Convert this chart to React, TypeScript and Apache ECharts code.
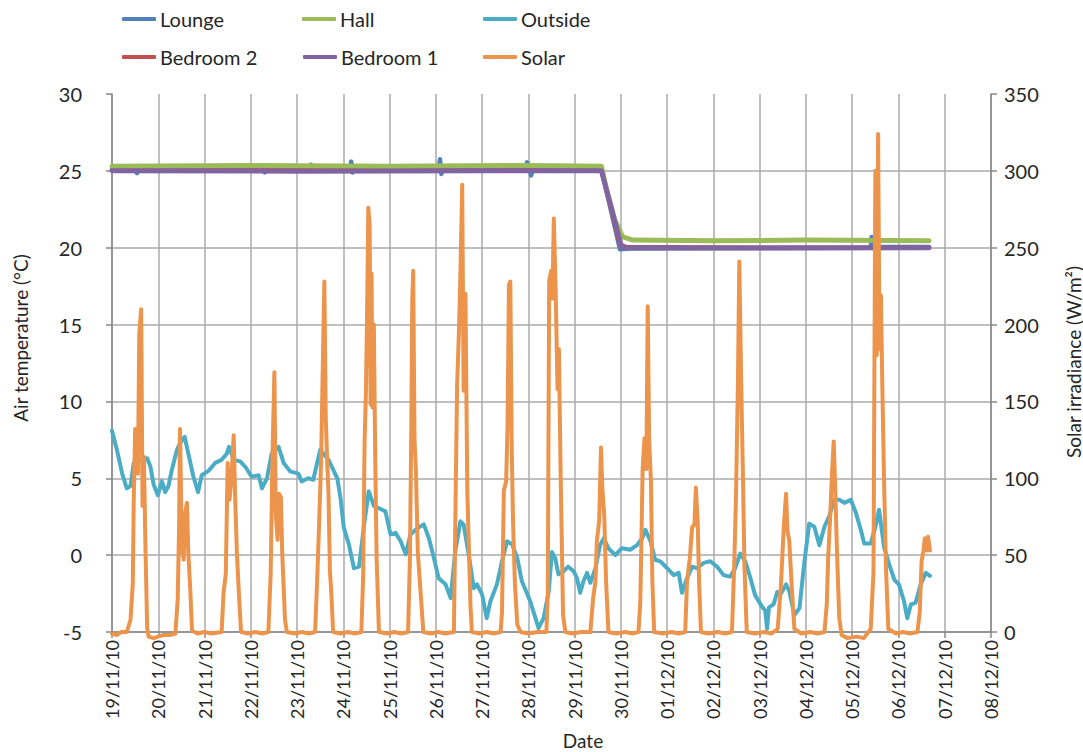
import React, { useEffect, useRef } from "react";
import * as echarts from "echarts";

// Time is given in days after 19/11/2010 00:00.
const START_UTC = Date.UTC(2010, 10, 19);
const DAY_MS = 86400000;

// Indoor air temperatures (°C)
const lounge: [number, number][] = [
  [0, 25.1], [0.5, 25.05], [0.54, 24.85], [0.58, 25.1], [3.28, 25.1], [3.3, 24.9], [3.33, 25.1],
  [4.28, 25.1], [4.3, 25.4], [4.33, 25.1], [5.15, 25.1], [5.17, 25.6], [5.2, 24.9], [5.23, 25.1],
  [7.06, 25.1], [7.09, 25.75], [7.12, 24.8], [7.15, 25.1], [8.94, 25.1], [8.97, 25.55],
  [9.03, 25.2], [9.06, 24.7], [9.1, 25.1], [10.58, 25.1], [10.98, 19.9], [11.2, 19.95],
  [16.4, 20.0], [16.42, 20.7], [16.45, 20.05], [17.66, 20.05],
];
const bedroom2: [number, number][] = [
  [0, 25.05], [5, 25.05], [10.58, 25.05], [10.98, 20.2], [11.1, 20.05], [14, 20.0], [17.66, 20.0],
];
const hall: [number, number][] = [
  [0, 25.3], [3, 25.35], [6, 25.3], [9, 25.35], [10.58, 25.3], [10.69, 23.8], [10.87, 21.8],
  [11.04, 20.7], [11.26, 20.5], [13, 20.45], [15, 20.5], [17.66, 20.45],
];
const bedroom1: [number, number][] = [
  [0, 25.0], [4, 24.98], [8, 25.0], [10.58, 25.0], [11.02, 20.0], [14, 19.98], [17.66, 20.0],
];

// Outside air temperature (°C)
const outside: [number, number][] = [
  [0, 8.1], [0.11, 6.8], [0.22, 5.3], [0.32, 4.35], [0.4, 4.5], [0.47, 6.0], [0.58, 6.2], [0.76, 6.3],
  [0.83, 5.76], [0.9, 4.6], [0.99, 3.9], [1.08, 4.8], [1.15, 4.1], [1.22, 4.5], [1.29, 5.5], [1.4, 6.8],
  [1.47, 7.3], [1.57, 7.7], [1.65, 6.6], [1.76, 5.1], [1.86, 4.1], [1.94, 5.2], [2.09, 5.5], [2.23, 6.0],
  [2.37, 6.2], [2.48, 6.6], [2.53, 7.05], [2.63, 6.2], [2.77, 6.1], [2.88, 5.75], [3.02, 5.1],
  [3.17, 5.2], [3.24, 4.35], [3.35, 5.0], [3.45, 6.6], [3.6, 7.05], [3.71, 6.0], [3.85, 5.45],
  [4.03, 5.3], [4.1, 4.8], [4.24, 5.0], [4.35, 4.9], [4.5, 6.85], [4.68, 6.2], [4.76, 5.7], [4.87, 5.0],
  [4.94, 3.7], [5.01, 1.8], [5.12, 0.7], [5.23, -0.85], [5.34, -0.75], [5.45, 2.0], [5.55, 4.15],
  [5.66, 3.2], [5.77, 3.05], [5.91, 2.85], [6.02, 1.35], [6.13, 1.45], [6.24, 0.9], [6.35, 0.05],
  [6.45, 1.35], [6.6, 1.75], [6.74, 2.0], [6.85, 1.1], [6.96, -0.2], [7.06, -1.5], [7.21, -1.9],
  [7.32, -2.8], [7.42, 0.25], [7.53, 2.2], [7.6, 2.0], [7.71, 0.05], [7.82, -2.15], [7.89, -1.9],
  [8.0, -2.55], [8.1, -4.1], [8.18, -3.0], [8.32, -1.9], [8.43, -0.4], [8.54, 0.9], [8.65, 0.7],
  [8.76, -0.2], [8.86, -1.7], [9.04, -3.0], [9.22, -4.75], [9.33, -4.1], [9.44, -2.35], [9.51, 0.2],
  [9.58, -0.2], [9.65, -1.25], [9.76, -1.05], [9.86, -0.75], [9.98, -1.05], [10.05, -1.5],
  [10.12, -2.45], [10.19, -1.7], [10.27, -1.15], [10.34, -1.8], [10.45, -0.85], [10.55, 0.65],
  [10.63, 1.1], [10.73, 0.45], [10.88, 0.0], [11.02, 0.45], [11.2, 0.35], [11.35, 0.65], [11.46, 1.1],
  [11.53, 1.65], [11.64, 0.9], [11.74, -0.3], [11.85, -0.4], [12.0, -0.85], [12.14, -1.3],
  [12.25, -1.15], [12.32, -2.45], [12.43, -1.5], [12.54, -0.75], [12.64, -0.85], [12.79, -0.5],
  [12.93, -0.4], [13.08, -0.75], [13.22, -1.3], [13.36, -1.4], [13.47, -0.85], [13.58, 0.1],
  [13.69, -0.4], [13.8, -1.5], [13.9, -2.6], [14.05, -3.35], [14.12, -3.6], [14.16, -4.8],
  [14.2, -3.4], [14.3, -3.2], [14.38, -2.4], [14.46, -2.5], [14.57, -1.9], [14.64, -2.35],
  [14.75, -3.9], [14.86, -3.45], [14.96, -0.6], [15.07, 2.05], [15.18, 1.85], [15.29, 0.65],
  [15.4, 1.85], [15.5, 2.5], [15.61, 3.6], [15.72, 3.6], [15.83, 3.4], [15.97, 3.6], [16.08, 2.75],
  [16.19, 1.6], [16.26, 0.75], [16.4, 0.75], [16.51, 1.95], [16.58, 2.95], [16.69, 0.5], [16.8, -0.6],
  [16.91, -1.6], [17.01, -1.9], [17.12, -3.0], [17.19, -4.1], [17.27, -3.2], [17.37, -3.1],
  [17.48, -1.9], [17.59, -1.15], [17.68, -1.35],
];

// Solar irradiance (W/m²)
const solar: [number, number][] = [
  [0, -1], [0.1, -2], [0.2, 0], [0.32, 0], [0.4, 8], [0.45, 32], [0.47, 86], [0.5, 132], [0.54, 129],
  [0.56, 103], [0.59, 194], [0.63, 210], [0.66, 82], [0.69, 114], [0.72, 60], [0.76, 3], [0.79, -3],
  [0.9, -4], [1.0, -3], [1.1, -2], [1.25, -2], [1.37, -1], [1.42, 21], [1.45, 68], [1.47, 132],
  [1.51, 55], [1.55, 47], [1.58, 77], [1.62, 84], [1.65, 51], [1.69, 29], [1.73, 1], [1.85, -1],
  [2.0, 0], [2.15, -1], [2.37, 0], [2.41, 25], [2.46, 38], [2.5, 110], [2.54, 86], [2.58, 99],
  [2.63, 128], [2.66, 90], [2.7, 51], [2.75, 21], [2.79, 0], [2.95, -1], [3.1, 0], [3.25, -1],
  [3.38, 0], [3.43, 38], [3.47, 116], [3.51, 169], [3.54, 77], [3.58, 60], [3.61, 90], [3.65, 88],
  [3.68, 51], [3.74, 8], [3.78, 0], [3.95, -1], [4.1, 0], [4.25, -1], [4.39, 0], [4.44, 38],
  [4.48, 73], [4.52, 112], [4.55, 162], [4.59, 228], [4.62, 140], [4.65, 112], [4.68, 90], [4.71, 40],
  [4.74, 26], [4.78, 0], [4.95, -1], [5.1, 0], [5.25, -1], [5.39, 0], [5.43, 37], [5.46, 124],
  [5.49, 157], [5.52, 222], [5.54, 276], [5.57, 265], [5.59, 148], [5.61, 233], [5.63, 146],
  [5.66, 200], [5.69, 113], [5.72, 48], [5.77, 0], [5.95, -1], [6.1, 0], [6.25, -1], [6.4, 0],
  [6.44, 48], [6.47, 135], [6.49, 215], [6.51, 235], [6.54, 124], [6.57, 105], [6.61, 52],
  [6.67, 26], [6.73, 0], [6.9, -1], [7.05, 0], [7.2, -1], [7.39, 0], [7.42, 70], [7.46, 161],
  [7.5, 196], [7.53, 232], [7.57, 291], [7.6, 157], [7.64, 220], [7.68, 92], [7.71, 59], [7.75, 16],
  [7.78, 0], [7.95, -1], [8.1, 0], [8.25, -1], [8.4, 0], [8.43, 13], [8.47, 92], [8.52, 98],
  [8.55, 135], [8.58, 226], [8.61, 228], [8.64, 120], [8.67, 70], [8.71, 31], [8.76, 5], [8.83, 0],
  [9.0, -1], [9.2, 0], [9.39, 0], [9.42, 26], [9.45, 228], [9.49, 235], [9.52, 217], [9.55, 269],
  [9.59, 222], [9.63, 158], [9.66, 184], [9.7, 98], [9.75, 11], [9.8, 0], [9.95, -1], [10.15, 0],
  [10.34, 0], [10.4, 22], [10.45, 33], [10.48, 59], [10.53, 72], [10.57, 120], [10.6, 93],
  [10.64, 76], [10.68, 33], [10.73, 0], [10.9, -1], [11.1, 0], [11.25, -1], [11.38, 0], [11.42, 20],
  [11.47, 106], [11.51, 126], [11.55, 106], [11.58, 212], [11.61, 126], [11.65, 98], [11.68, 33],
  [11.72, 0], [11.9, -1], [12.1, 0], [12.25, -1], [12.39, 0], [12.43, 33], [12.49, 48], [12.54, 68],
  [12.59, 70], [12.62, 94], [12.66, 72], [12.69, 33], [12.73, 0], [12.9, -1], [13.1, 0], [13.25, -1],
  [13.4, 0], [13.45, 44], [13.49, 91], [13.53, 163], [13.56, 241], [13.6, 163], [13.64, 98],
  [13.67, 44], [13.72, 0], [13.9, -1], [14.1, 0], [14.25, -1], [14.39, 2], [14.46, 31], [14.52, 68],
  [14.57, 90], [14.6, 66], [14.64, 59], [14.69, 31], [14.75, 2], [14.9, -1], [15.1, 0], [15.25, -1],
  [15.4, 0], [15.45, 18], [15.48, 48], [15.53, 79], [15.56, 101], [15.6, 124], [15.63, 96],
  [15.67, 53], [15.72, 9], [15.77, -2], [15.9, -4], [16.1, -3], [16.25, -4], [16.4, 2], [16.46, 39],
  [16.5, 300], [16.53, 180], [16.56, 324], [16.59, 184], [16.62, 219], [16.65, 162], [16.69, 96],
  [16.73, 42], [16.78, 2], [16.95, -1], [17.1, 0], [17.25, -1], [17.41, 0], [17.46, 13], [17.5, 46],
  [17.54, 53], [17.57, 61], [17.61, 53], [17.64, 62], [17.68, 53],
];

const tempAxis = { min: -5, max: 30, interval: 5 };
const solarAxis = { min: 0, max: 350, interval: 50 };
const dayAxis = { min: 0, max: 19, interval: 1 };

const COLORS = {
  Lounge: "#4f81bd",
  "Bedroom 2": "#c0504d",
  Hall: "#9bbb59",
  "Bedroom 1": "#8064a2",
  Outside: "#4bacc6",
  Solar: "#ec944c",
};

const FONT = "Lato, 'Open Sans', sans-serif";
const TEXT = "#262626";
const AXIS = "#888888";
const GRID = "#aaaaaa";

// Legend entries placed in a 3 x 2 arrangement
const legendSlots: { name: keyof typeof COLORS; left: number; top: number }[] = [
  { name: "Lounge", left: 122, top: 9 },
  { name: "Hall", left: 302, top: 9 },
  { name: "Outside", left: 483, top: 9 },
  { name: "Bedroom 2", left: 122, top: 47 },
  { name: "Bedroom 1", left: 303, top: 47 },
  { name: "Solar", left: 483, top: 47 },
];

function dayLabel(v: number): string {
  const d = new Date(START_UTC + Math.round(v) * DAY_MS);
  const dd = String(d.getUTCDate()).padStart(2, "0");
  const mm = String(d.getUTCMonth() + 1).padStart(2, "0");
  const yy = String(d.getUTCFullYear()).slice(2);
  return `${dd}/${mm}/${yy}`;
}

export default function App() {
  const ref = useRef<HTMLDivElement>(null);

  useEffect(() => {
    document.body.style.margin = "0";
    const chart = echarts.init(ref.current!, null, { renderer: "svg" });

    const lineSeries = (name: keyof typeof COLORS, data: [number, number][], width: number, yAxisIndex = 0) => ({
      name,
      type: "line",
      data,
      yAxisIndex,
      showSymbol: false,
      symbol: "none",
      clip: false,
      lineStyle: { color: COLORS[name], width, join: "round", cap: "round" },
      itemStyle: { color: COLORS[name] },
    });

    chart.setOption({
      animation: false,
      textStyle: { fontFamily: FONT },
      grid: { left: 112, right: 92, top: 94, bottom: 120, containLabel: false },
      legend: legendSlots.map((s) => ({
        data: [s.name],
        left: s.left,
        top: s.top,
        icon: "roundRect",
        itemWidth: 34,
        itemHeight: 4,
        padding: 0,
        textStyle: { fontFamily: FONT, fontSize: 20, color: TEXT, padding: [0, 0, 0, -1] },
        selectedMode: false,
      })),
      xAxis: {
        type: "value",
        ...dayAxis,
        axisLine: { show: true, onZero: false, lineStyle: { color: AXIS, width: 1.5 } },
        axisTick: { show: true, length: 6, lineStyle: { color: AXIS, width: 1.5 } },
        splitLine: { show: true, lineStyle: { color: GRID, width: 1.5 } },
        axisLabel: {
          rotate: 90,
          margin: 8,
          fontSize: 18,
          color: TEXT,
          fontFamily: FONT,
          formatter: (v: number) => dayLabel(v),
        },
      },
      yAxis: [
        {
          type: "value",
          ...tempAxis,
          position: "left",
          axisLine: { show: true, lineStyle: { color: AXIS, width: 1.5 } },
          axisTick: { show: true, length: 6, lineStyle: { color: AXIS, width: 1.5 } },
          splitLine: { show: true, showMaxLine: false, lineStyle: { color: GRID, width: 1.5 } },
          axisLabel: { margin: 30, fontSize: 20, color: TEXT, fontFamily: FONT },
        },
        {
          type: "value",
          ...solarAxis,
          position: "right",
          axisLine: { show: true, lineStyle: { color: AXIS, width: 1.5 } },
          axisTick: { show: true, length: 6, lineStyle: { color: AXIS, width: 1.5 } },
          splitLine: { show: false },
          axisLabel: { margin: 13, fontSize: 20, color: TEXT, fontFamily: FONT },
        },
      ],
      graphic: [
        {
          type: "text",
          x: 20,
          y: 338,
          rotation: Math.PI / 2,
          style: {
            text: "Air temperature (°C)",
            fontSize: 19,
            fontFamily: FONT,
            fill: TEXT,
            textAlign: "center",
            textVerticalAlign: "middle",
          },
        },
        {
          type: "text",
          x: 1073,
          y: 362,
          rotation: Math.PI / 2,
          style: {
            text: "Solar irradiance (W/m²)",
            fontSize: 19,
            fontFamily: FONT,
            fill: TEXT,
            textAlign: "center",
            textVerticalAlign: "middle",
          },
        },
        {
          type: "text",
          x: 583,
          y: 740,
          style: {
            text: "Date",
            fontSize: 19,
            fontFamily: FONT,
            fill: TEXT,
            textAlign: "center",
            textVerticalAlign: "middle",
          },
        },
      ],
      series: [
        lineSeries("Lounge", lounge, 4.5),
        lineSeries("Bedroom 2", bedroom2, 4.5),
        lineSeries("Hall", hall, 5),
        lineSeries("Bedroom 1", bedroom1, 5),
        lineSeries("Outside", outside, 4),
        lineSeries("Solar", solar, 4, 1),
      ],
    });

    return () => chart.dispose();
  }, []);

  return <div ref={ref} style={{ width: 1083, height: 752 }} />;
}
